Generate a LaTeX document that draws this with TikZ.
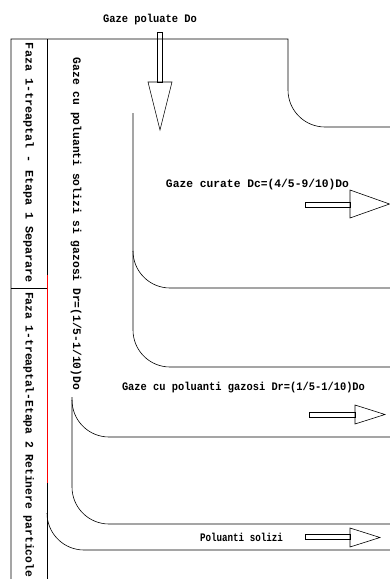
\documentclass[tikz,border=0pt]{standalone}
\usepackage{fontspec}
\setmonofont{Liberation Mono}
\usepackage{graphicx}
\newcommand{\lbl}[2]{\resizebox{#1}{\height}{\ttfamily\bfseries\fontsize{11.5}{12}\selectfont #2}}
\begin{document}
\begin{tikzpicture}[x=1pt,y=-1pt,
  ln/.style={line width=0.6pt,black},
  arr/.style={line width=0.6pt,black},
  txt/.style={inner sep=0pt,outer sep=0pt}]
\useasboundingbox (0,0) rectangle (390,579);
% frame
\draw[ln] (11,579) -- (11,39) -- (288,39) -- (288,90) arc[start angle=180,end angle=90,radius=37] -- (390,127);
\draw[ln] (47,39) -- (47,275);
\draw[line width=0.6pt,red] (47,275) -- (47,483);
\draw[ln] (47,483) -- (47,579);
\draw[ln] (11,288) -- (47,288);
\draw[ln] (47,513) arc[start angle=180,end angle=90,radius=37] -- (390,550);
% inner x=133
\draw[ln] (133,113) -- (133,330) arc[start angle=180,end angle=90,radius=37] -- (390,367);
\draw[ln] (133,251) arc[start angle=180,end angle=90,radius=37] -- (390,288);
% x=72
\draw[ln] (72,397) -- (72,487) arc[start angle=180,end angle=90,radius=37] -- (390,524);
\draw[ln] (72,400) arc[start angle=180,end angle=90,radius=37] -- (390,437);
% arrows
\draw[arr] (157,32) rectangle (162,82);
\draw[arr] (148,82) -- (172,82) -- (160,130) -- cycle;
\draw[arr] (305,202) rectangle (350,207);
\draw[arr] (350,190) -- (350,218) -- (389.5,204) -- cycle;
\draw[arr] (309,412) rectangle (355,417);
\draw[arr] (355,405) -- (355,424) -- (385,414.5) -- cycle;
\draw[arr] (305,534) rectangle (350,539);
\draw[arr] (350,528) -- (350,547) -- (380,537.5) -- cycle;
% texts
\node[txt] (t1) at (150,20) {\lbl{94pt}{Gaze poluate Do}};
\node[txt] (t2) at (257.5,185) {\lbl{183pt}{Gaze curate Dc=(4/5-9/10)Do}};
\node[txt] (t3) at (243.5,388) {\lbl{243pt}{Gaze cu poluanti gazosi Dr=(1/5-1/10)Do}};
\node[txt] (t4) at (241.5,537) {\lbl{83pt}{Poluanti solizi}};
\node[txt,rotate=-90] (t5) at (76,224) {\lbl{332pt}{Gaze cu poluanti solizi si gazosi Dr=(1/5-1/10)Do}};
\node[txt,rotate=-90] (t6) at (28.5,163) {\lbl{240pt}{Faza 1-treaptal - Etapa 1 Separare}};
\node[txt,rotate=-90] (t7) at (28.5,434.5) {\lbl{285pt}{Faza 1-treaptal-Etapa 2 Retinere particole}};
\end{tikzpicture}
\end{document}
